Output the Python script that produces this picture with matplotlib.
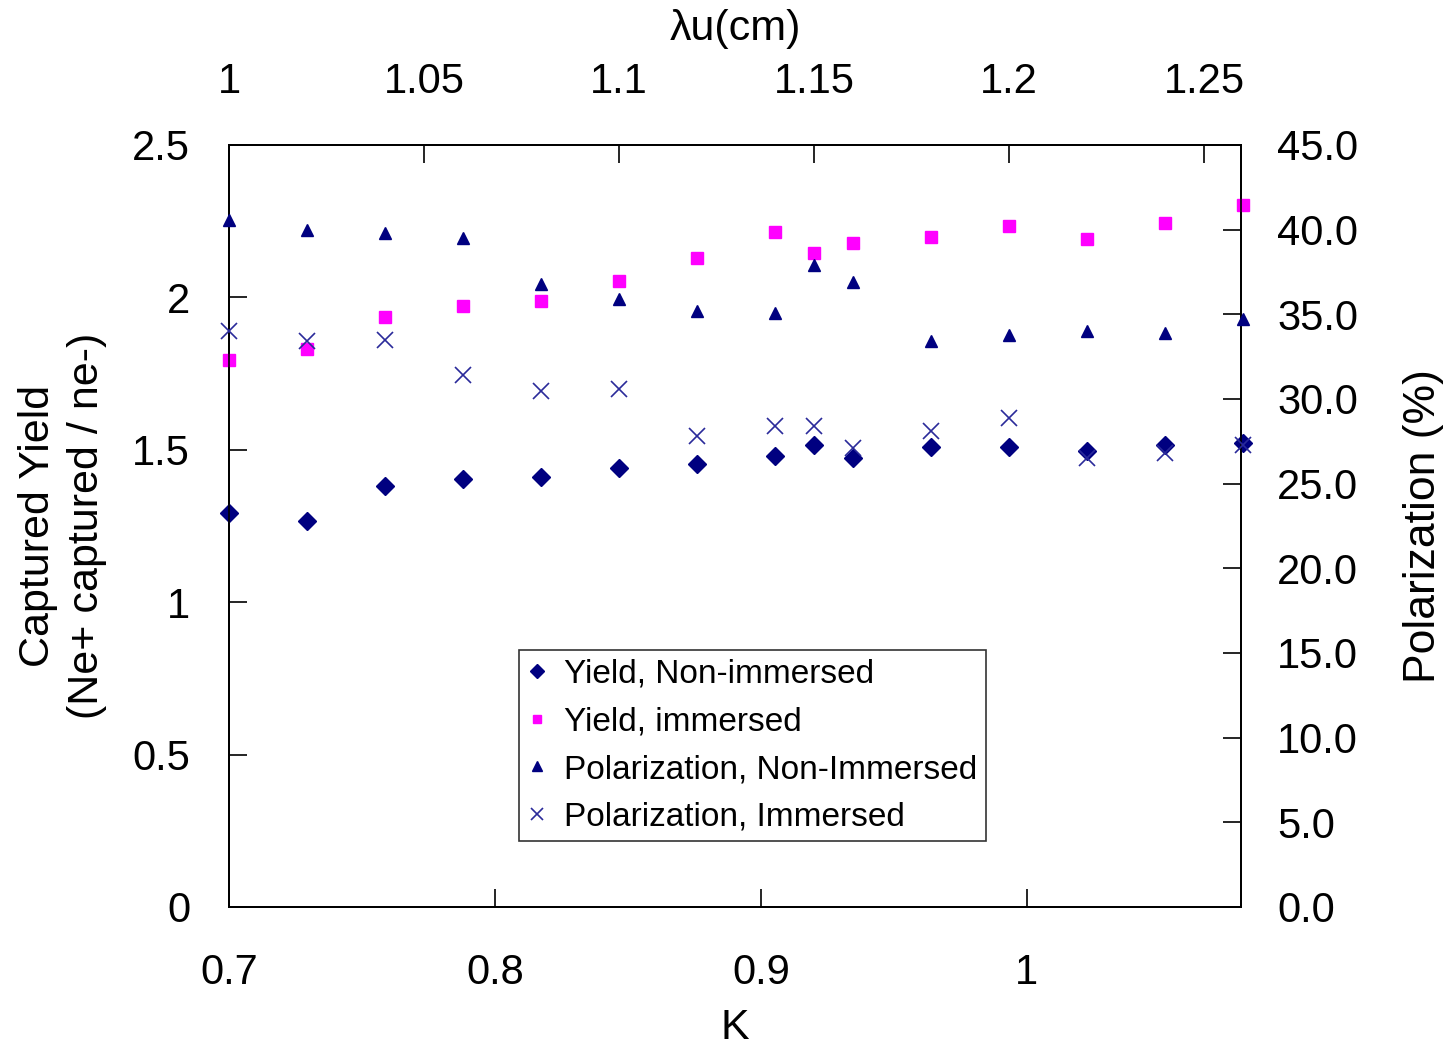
import matplotlib
matplotlib.use("Agg")
import matplotlib.pyplot as plt
from matplotlib.ticker import FormatStrFormatter, FuncFormatter

plt.rcParams['font.family'] = ['Liberation Sans', 'DejaVu Sans']

lambda_u = [1.00, 1.02, 1.04, 1.06, 1.08, 1.10, 1.12, 1.14, 1.15, 1.16, 1.18, 1.20, 1.22, 1.24, 1.26]
yield_non_immersed = [1.293, 1.266, 1.381, 1.404, 1.411, 1.440, 1.453, 1.480, 1.516, 1.473, 1.509, 1.509, 1.496, 1.516, 1.522]
yield_immersed = [1.795, 1.831, 1.936, 1.972, 1.988, 2.054, 2.129, 2.215, 2.146, 2.178, 2.198, 2.234, 2.192, 2.244, 2.303]
pol_non_immersed = [40.6, 40.0, 39.8, 39.5, 36.8, 35.9, 35.2, 35.1, 37.9, 36.9, 33.4, 33.8, 34.0, 33.9, 34.7]
pol_immersed = [34.0, 33.4, 33.5, 31.4, 30.5, 30.6, 27.8, 28.4, 28.4, 27.1, 28.1, 28.9, 26.5, 26.8, 27.3]

k_ticks = [0.7, 0.8, 0.9, 1.0]
lu_ticks = [1.0, 1.05, 1.1, 1.15, 1.2, 1.25]
yield_ticks = [0, 0.5, 1, 1.5, 2, 2.5]
pol_ticks = [0, 5, 10, 15, 20, 25, 30, 35, 40, 45]

navy = '#000080'
magenta = '#FF00FF'
fs = 30
lfs = 31

fig = plt.figure(figsize=(14.43, 10.51), dpi=100)
ax = fig.add_axes([229/1443, 1 - 907/1051, 1012/1443, 762/1051])
ax.set_xlim(0.7, 1.0805)
ax.set_ylim(0, 2.5)
ax.set_xticks(k_ticks)
ax.xaxis.set_major_formatter(FuncFormatter(lambda v, p: f"{v:g}"))
ax.set_yticks(yield_ticks)
ax.yaxis.set_major_formatter(FuncFormatter(lambda v, p: f"{v:g}"))
ax.tick_params(direction='in', length=13, width=1.2, labelsize=fs)
ax.tick_params(axis='y', pad=28)
ax.tick_params(axis='x', pad=33)
ax.set_xlabel('K', fontsize=lfs, labelpad=11)
ax.set_ylabel('Captured Yield\n(Ne+ captured / ne-)', fontsize=lfs, labelpad=18, linespacing=1.3)

axt = ax.twiny()
axt.set_xlim(1.0, 1.2595)
axt.set_xticks(lu_ticks)
axt.xaxis.set_major_formatter(FuncFormatter(lambda v, p: f"{v:g}"))
axt.tick_params(direction='in', length=13, width=1.2, labelsize=fs, pad=31)
axt.set_xlabel('\u03bbu(cm)', fontsize=lfs, labelpad=16)

axr = axt.twinx()
axr.set_ylim(0, 45)
axr.set_yticks(pol_ticks)
axr.yaxis.set_major_formatter(FormatStrFormatter('%.1f'))
axr.tick_params(direction='in', length=13, width=1.2, labelsize=fs, pad=26)
axr.set_ylabel('Polarization (%)', fontsize=lfs + 1, labelpad=32)

for a in (ax, axt, axr):
    for s in a.spines.values():
        s.set_linewidth(1.2)

h1, = axt.plot(lambda_u, yield_non_immersed, linestyle='none', marker='D', ms=9, color=navy,
               label='Yield, Non-immersed', clip_on=False, zorder=5)
h2, = axt.plot(lambda_u, yield_immersed, linestyle='none', marker='s', ms=8, color=magenta,
               label='Yield, immersed', clip_on=False, zorder=5)
h3, = axr.plot(lambda_u, pol_non_immersed, linestyle='none', marker='^', ms=9, color=navy,
               label='Polarization, Non-Immersed', clip_on=False, zorder=5)
h4, = axr.plot(lambda_u, pol_immersed, linestyle='none', marker='x', ms=11, mew=1.2, color='#2a2a9a',
               label='Polarization, Immersed', clip_on=False, zorder=5)

leg = axr.legend(handles=[h1, h2, h3, h4], loc='lower left', bbox_to_anchor=(0.2866, 0.0866),
                 fontsize=24, frameon=True, fancybox=False, edgecolor='black',
                 handlelength=0.6, handletextpad=0.5, borderpad=0.25, labelspacing=0.5,
                 markerscale=0.8, borderaxespad=0)
leg.get_frame().set_linewidth(1.2)

fig.savefig('out.png', dpi=100)
